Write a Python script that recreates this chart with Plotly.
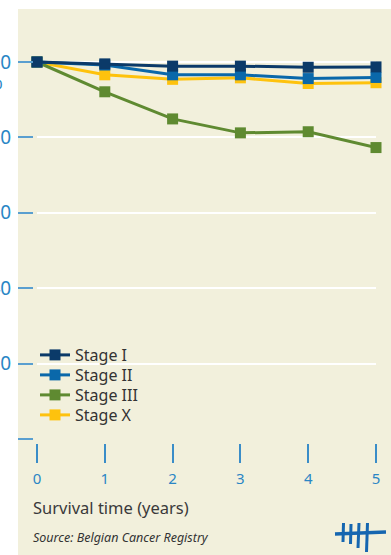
import plotly.graph_objects as go

years = [0, 1, 2, 3, 4, 5]
stage_names = ["Stage I", "Stage II", "Stage III", "Stage X"]
stage_i = [100, 99.5, 98.9, 98.9, 98.6, 98.7]
stage_ii = [100, 99.2, 96.6, 96.6, 95.6, 95.9]
stage_iii = [100, 92.1, 84.9, 81.2, 81.5, 77.3]
stage_x = [100, 96.6, 95.4, 95.8, 94.3, 94.5]
y_ticks = [0, 20, 40, 60, 80, 100]
y_tick_labels = ["", "20", "40", "60", "80", "100"]
x_ticks = [0, 1, 2, 3, 4, 5]

colors = {"Stage I": "#0b3a69", "Stage II": "#0a68aa", "Stage III": "#5f8a31", "Stage X": "#fec20d"}
series = {"Stage I": stage_i, "Stage II": stage_ii, "Stage III": stage_iii, "Stage X": stage_x}

W_FIG, H_FIG = 391, 555
ML, MR, MT, MB = 33, 15, 16, 112
PW = W_FIG - ML - MR
PH = H_FIG - MT - MB

def px(x):
    return (x - ML) / PW

def py(y):
    return 1 - (y - MT) / PH

font = "Noto Sans"
legend_ids = {"Stage I": "legend", "Stage II": "legend2", "Stage III": "legend3", "Stage X": "legend4"}
legend_rows = {"Stage I": 355, "Stage II": 375, "Stage III": 395, "Stage X": 415}

fig = go.Figure()
for name in ["Stage X", "Stage III", "Stage II", "Stage I"]:
    fig.add_trace(go.Scatter(
        x=years, y=series[name], name=name, mode="lines+markers",
        line=dict(color=colors[name], width=3),
        marker=dict(symbol="square", size=11, color=colors[name]),
        cliponaxis=False, legend=legend_ids[name],
    ))

shapes = [
    dict(type="rect", xref="paper", yref="paper", x0=px(18), x1=px(395), y0=py(9), y1=py(560),
         fillcolor="#f2f0dc", line=dict(width=0), layer="below"),
]
logo_color = "#1566b0"
shapes.append(dict(type="line", xref="paper", yref="paper", x0=px(335), y0=py(534), x1=px(386), y1=py(532),
                   line=dict(color=logo_color, width=3.5)))
for (xa, ya, xb, yb) in [(343.5, 523, 343, 542), (351, 524, 350.5, 544), (359, 523, 358, 548), (367.5, 523, 366.5, 552)]:
    shapes.append(dict(type="line", xref="paper", yref="paper", x0=px(xa), y0=py(ya), x1=px(xb), y1=py(yb),
                       line=dict(color=logo_color, width=3)))

annotations = [
    dict(text="%", xref="paper", yref="paper", x=px(5), y=py(82), xanchor="right", yanchor="middle",
         showarrow=False, font=dict(family=font, size=19, color="#2a86c5")),
    dict(text="Survival time (years)", xref="paper", yref="paper", x=px(31), y=py(507), xanchor="left",
         yanchor="middle", showarrow=False, font=dict(family=font, size=16.5, color="#3a3a3a")),
    dict(text="<i>Source: Belgian Cancer Registry</i>", xref="paper", yref="paper", x=px(31), y=py(537),
         xanchor="left", yanchor="middle", showarrow=False, font=dict(family=font, size=12.5, color="#333333")),
]

legend_common = dict(xanchor="left", yanchor="middle", bgcolor="rgba(0,0,0,0)",
                     font=dict(family=font, size=16, color="#333333"), itemwidth=30)
legends = {}
for name in stage_names:
    legends[legend_ids[name]] = dict(x=px(35), y=py(legend_rows[name]), **legend_common)

fig.update_layout(
    width=W_FIG, height=H_FIG,
    margin=dict(l=ML, r=MR, t=MT, b=MB, pad=0, autoexpand=False),
    paper_bgcolor="white", plot_bgcolor="rgba(0,0,0,0)",
    shapes=shapes, annotations=annotations,
    showlegend=True,
    xaxis=dict(domain=[4 / PW, 1], range=[0, 5], anchor="free", position=0, automargin=False,
               tickvals=x_ticks, ticktext=[str(v) for v in x_ticks],
               showgrid=False, zeroline=False, showline=False,
               ticks="outside", ticklen=19, tickwidth=2, tickcolor="#3a8dc8",
               ticklabelstandoff=3,
               tickfont=dict(family=font, size=15, color="#2a86c5")),
    yaxis=dict(domain=[4 / PH, 1], range=[0, 112.2], anchor="free", position=0, automargin=False,
               tickvals=y_ticks, ticktext=y_tick_labels,
               showgrid=True, gridcolor="white", gridwidth=2,
               zeroline=False, showline=False,
               ticks="outside", ticklen=15, tickwidth=2, tickcolor="#5a9fd0",
               ticklabelstandoff=3,
               tickfont=dict(family=font, size=19, color="#2a86c5")),
    **legends,
)

fig.write_html("out.html", post_script="document.body.style.margin='0';",
               config={"displayModeBar": False})
